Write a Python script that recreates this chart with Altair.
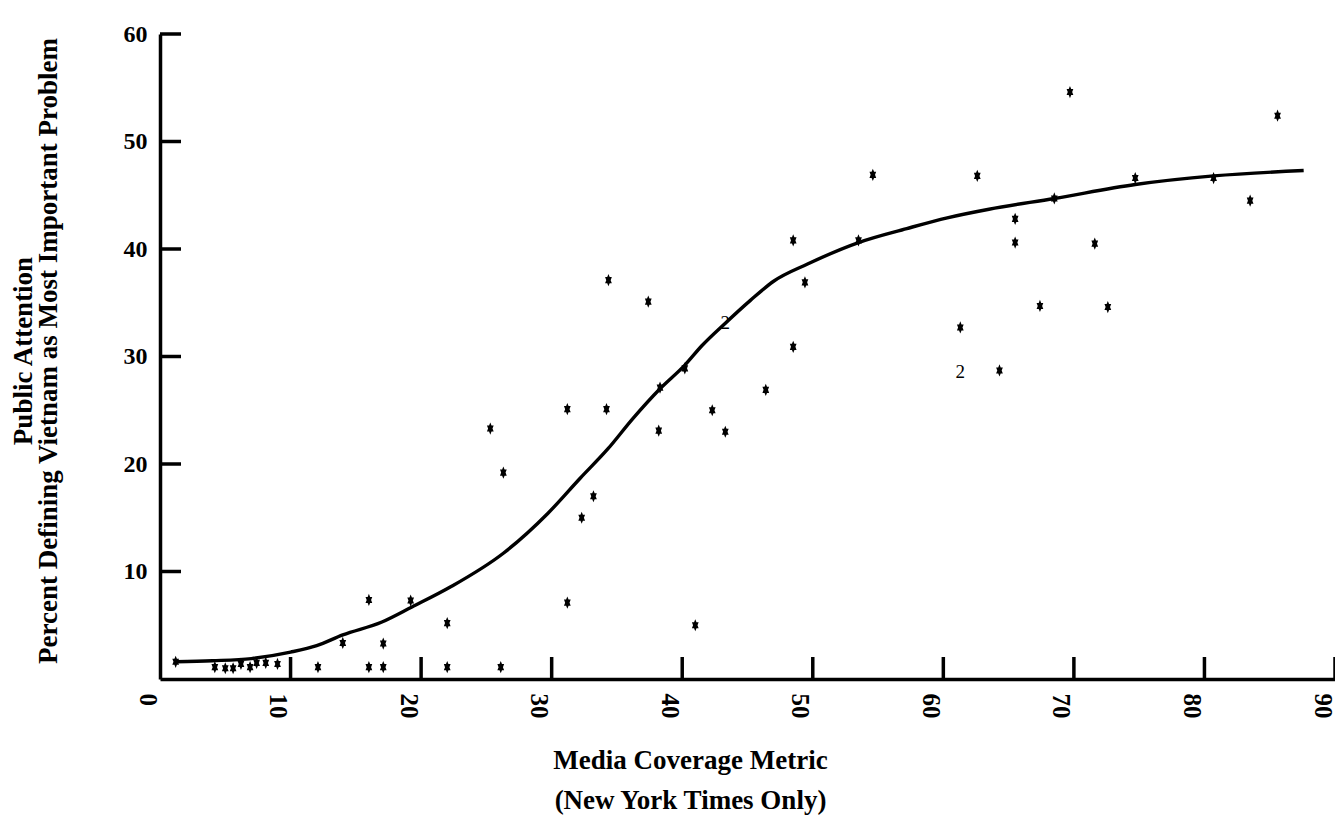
import altair as alt
import pandas as pd

# ---- data ----
pts_x = [1.2, 4.2, 5.0, 5.6, 6.2, 6.9, 7.4, 8.1, 9.0,
         12.1, 14.0, 16.0, 16.0, 17.1, 17.1, 19.2, 22.0, 22.0,
         25.3, 26.3, 26.1,
         31.2, 31.2, 32.3, 33.2, 34.2, 34.35, 37.4, 38.3, 38.2,
         40.2, 41.0, 42.3, 43.3,
         46.4, 48.5, 48.5, 49.4, 53.5, 54.6,
         61.3, 62.6, 64.3, 65.5, 65.5, 67.4, 68.5, 69.7, 71.6, 72.6,
         74.7, 80.7, 83.5, 85.6]
pts_y = [1.6, 1.1, 1.0, 1.0, 1.4, 1.1, 1.5, 1.5, 1.4,
         1.1, 3.35, 7.35, 1.1, 1.1, 3.3, 7.3, 5.2, 1.1,
         23.3, 19.2, 1.1,
         7.1, 25.1, 15.0, 17.0, 25.1, 37.1, 35.1, 27.1, 23.1,
         28.9, 5.0, 25.0, 23.0,
         26.9, 40.8, 30.9, 36.9, 40.8, 46.9,
         32.7, 46.8, 28.7, 42.8, 40.6, 34.7, 44.7, 54.6, 40.5, 34.6,
         46.6, 46.6, 44.5, 52.4]

curve_x = [1.2, 4, 7, 10, 12, 14, 17, 19.3, 22.3, 26.3, 29.7, 32.2, 34.3, 36.2,
           38.3, 40.2, 41.5, 43.3, 45.2, 47.0, 49.6, 53.5, 57.2, 60.3, 63.5,
           68.5, 74.7, 80.7, 87.6]
curve_y = [1.6, 1.7, 1.9, 2.5, 3.1, 4.1, 5.3, 6.7, 8.6, 11.7, 15.4, 18.7, 21.4, 24.2,
           27.0, 29.2, 31.0, 33.1, 35.2, 37.0, 38.6, 40.6, 41.9, 42.9, 43.7,
           44.7, 46.0, 46.8, 47.3]

# observations marked "2" (two coincident cases)
two_x = [43.3, 61.3]
two_y = [33.1, 28.6]
two_label = ["2", "2"]

x_ticks = [0, 10, 20, 30, 40, 50, 60, 70, 80, 90]
y_ticks = [10, 20, 30, 40, 50, 60]

x_title = ["Media Coverage Metric", "(New York Times Only)"]
y_title = ["Public Attention", "Percent Defining Vietnam as Most Important Problem"]

W, H = 1175, 645
FONT = "Liberation Serif"

pts = pd.DataFrame({"x": pts_x, "y": pts_y})
curve = pd.DataFrame({"x": curve_x, "y": curve_y})
twos = pd.DataFrame({"x": two_x, "y": two_y, "t": two_label})
xt = pd.DataFrame({"x": x_ticks[1:]})
yt = pd.DataFrame({"y": y_ticks})

xscale = alt.Scale(domain=[0, 90], nice=False, zero=False)
yscale = alt.Scale(domain=[0, 60], nice=False, zero=False)

xaxis = alt.Axis(values=x_ticks, title=x_title, ticks=False, grid=False,
                 domainColor="black", domainWidth=3.5,
                 labelAngle=90, labelAlign="left", labelBaseline="middle",
                 labelOffset=-13, labelPadding=14, labelFlush=False,
                 labelFont=FONT, labelFontSize=25, labelFontWeight="bold",
                 labelColor="black",
                 titleFont=FONT, titleFontSize=27, titleFontWeight="bold",
                 titleColor="black", titleLineHeight=40,
                 titleX=530, titleY=81, titleBaseline="middle", titleAlign="center")
yaxis = alt.Axis(values=y_ticks, title=y_title, ticks=False, grid=False,
                 domainColor="black", domainWidth=3.5,
                 labelPadding=13, labelFont=FONT, labelFontSize=24,
                 labelFontWeight="bold", labelColor="black",
                 titleFont=FONT, titleFontSize=27, titleFontWeight="bold",
                 titleColor="black", titleLineHeight=25, titleAngle=-90,
                 titleX=-137, titleY=H / 2 - 6, titleBaseline="middle",
                 titleAlign="center")

X = alt.X("x:Q", scale=xscale, axis=xaxis)
Y = alt.Y("y:Q", scale=yscale, axis=yaxis)

star = ("M0,-1L0.2,-0.5L0.55,-0.5L0.36,0L0.55,0.5L0.2,0.5L0,1"
        "L-0.2,0.5L-0.55,0.5L-0.36,0L-0.55,-0.5L-0.2,-0.5Z")

line = alt.Chart(curve).mark_line(color="black", strokeWidth=3.4,
                                  interpolate="monotone").encode(x=X, y=Y)
points = alt.Chart(pts).mark_point(shape=star, filled=True, color="black",
                                   size=150, opacity=1).encode(x=X, y=Y)
twos_text = alt.Chart(twos).mark_text(font=FONT, fontSize=19, color="black"
                                      ).encode(x=X, y=Y, text="t:N")
xticks_l = alt.Chart(xt).mark_rule(color="black", strokeWidth=3.5).encode(
    x=X, y=alt.value(H), y2=alt.value(H - 22))
yticks_l = alt.Chart(yt).mark_rule(color="black", strokeWidth=3.5).encode(
    y=Y, x=alt.value(0), x2=alt.value(21))

chart = alt.layer(xticks_l, yticks_l, line, points, twos_text).properties(
    width=W, height=H,
    autosize=alt.AutoSizeParams(type="none"),
    padding={"left": 152, "top": 26, "right": 0, "bottom": 140},
    background="white",
).configure_view(stroke=None)

chart.save("out.html", embed_options={"renderer": "svg", "actions": False})
